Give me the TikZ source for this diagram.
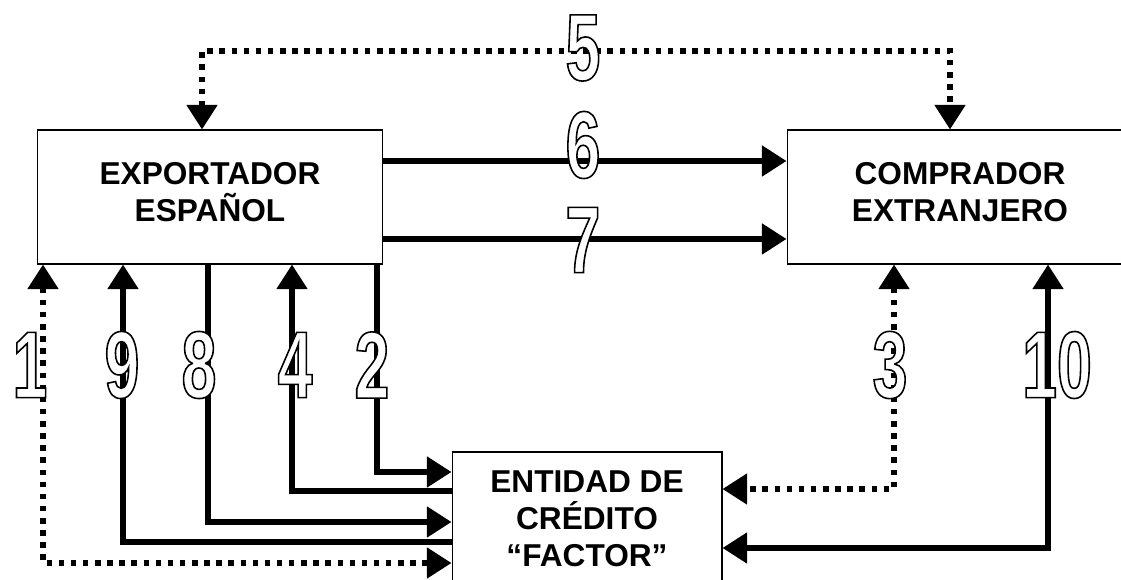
\documentclass[tikz,border=0pt]{standalone}
\usepackage{fontspec}
\setmainfont{Liberation Sans}
\newfontfamily\digitfont[FakeStretch=0.66]{Liberation Sans}
\usetikzlibrary{arrows.meta,positioning}

% hollow digits: white fill, black outline
\newcommand{\hollow}[1]{\special{pdf:literal direct 2 Tr 0.9 w 0 G}#1\special{pdf:literal direct 0 Tr}}

\begin{document}
\begin{tikzpicture}[
    x=0.02cm, y=-0.02cm,
    box/.style={
      draw, line width=0.6pt, minimum width=#1, minimum height=2.68cm,
      inner sep=0pt, align=center, font=\fontsize{18}{21}\selectfont\bfseries,
    },
    flow/.style={line width=3.1pt, >={Triangle[length=14pt,width=17pt]}},
    dots/.style={flow, dash pattern=on 3.1pt off 3.8pt},
    num/.style={font=\digitfont\bfseries\fontsize{54}{54}\selectfont, text=white, inner sep=0pt},
  ]

  \useasboundingbox (0,0) rectangle (1121,580);

  % =================== BOXES ===================
  \node[box=6.92cm, text depth=0.2cm] (exp) at (210,197) {EXPORTADOR\\ESPAÑOL};
  \node[box=6.92cm, text depth=0.2cm] (comp) at (960,197) {COMPRADOR\\EXTRANJERO};
  \node[box=5.4cm] (fac) at (587,519) {ENTIDAD DE\\CRÉDITO\\“FACTOR”};

  % Bends of the connectors
  \coordinate (p5l) at (202,51);
  \coordinate (p5r) at (950,51);
  \coordinate (p6) at (0,161);
  \coordinate (p7) at (0,239);
  \coordinate (p1) at (43,563);
  \coordinate (p9) at (123,542);
  \coordinate (p8) at (208,522);
  \coordinate (p4) at (292,491);
  \coordinate (p2) at (377,472);
  \coordinate (p3) at (894,489);
  \coordinate (p10) at (1048,548);

  % =================== CONNECTORS ===================
  \draw[dots,<->] (exp.north -| p5l) -- (p5l) -- (p5r) -- (comp.north -| p5r);
  \draw[flow,->] (exp.east |- p6) -- (comp.west |- p6);
  \draw[flow,->] (exp.east |- p7) -- (comp.west |- p7);

  \draw[dots,<->] (exp.south -| p1) |- (fac.west |- p1);
  \draw[flow,<-] (exp.south -| p9) |- (fac.west |- p9);
  \draw[flow,->] (exp.south -| p8) |- (fac.west |- p8);
  \draw[flow,<-] (exp.south -| p4) |- (fac.west |- p4);
  \draw[flow,->] (exp.south -| p2) |- (fac.west |- p2);

  \draw[dots,<->] (comp.south -| p3) |- (fac.east |- p3);
  \draw[flow,<->] (comp.south -| p10) |- (fac.east |- p10);

  % =================== STEP NUMBERS ===================
  \node[num] (n5) at (583,48) {\hollow{5}};
  \node[num] (n6) at (583,145) {\hollow{6}};
  \node[num] (n7) at (583,240) {\hollow{7}};
  \node[num] (n1) at (30,365) {\hollow{1}};
  \node[num] (n9) at (122,365) {\hollow{9}};
  \node[num] (n8) at (199,365) {\hollow{8}};
  \node[num] (n4) at (295,365) {\hollow{4}};
  \node[num] (n2) at (372,365) {\hollow{2}};
  \node[num] (n3) at (890,365) {\hollow{3}};
  \node[num] (n10) at (1057,365) {\hollow{10}};

\end{tikzpicture}
\end{document}
